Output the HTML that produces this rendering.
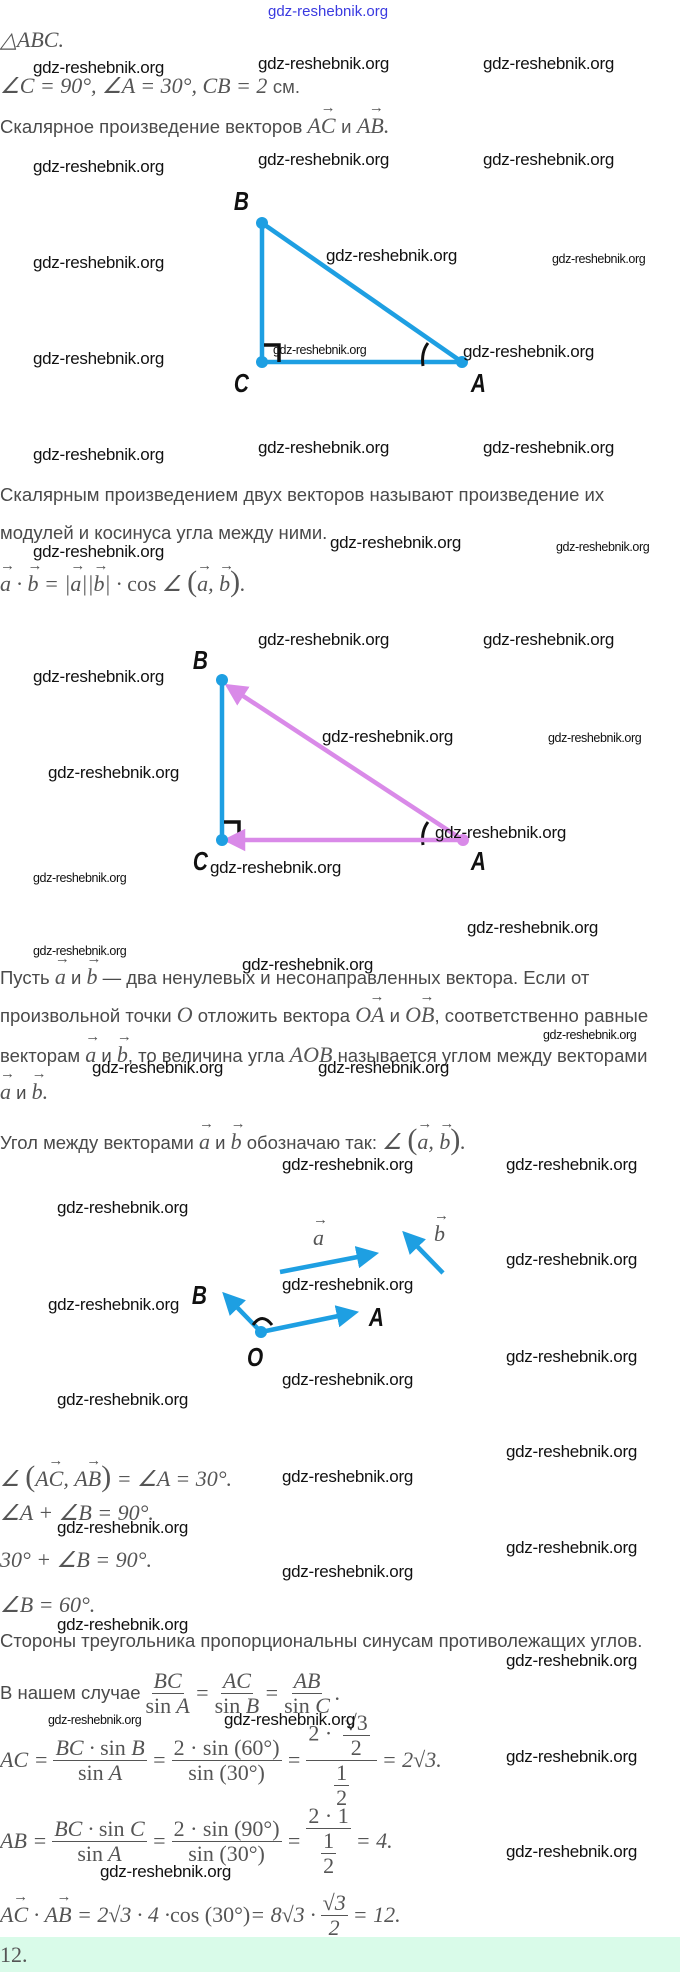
<!DOCTYPE html>
<html><head><meta charset="utf-8">
<style>
body{margin:0;width:680px;height:1972px;position:relative;background:#fff;overflow:hidden;font-family:"Liberation Sans",sans-serif;color:#4a4a4a}
.t{position:absolute;white-space:nowrap;font-size:18.5px;line-height:24px}
.m{font-family:"Liberation Serif",serif;font-style:italic;font-size:22px;color:#555}
.r{font-style:normal}
.w{position:absolute;white-space:nowrap;font-size:17px;line-height:20px;color:#111;letter-spacing:-0.3px}
.ws{position:absolute;white-space:nowrap;font-size:12.5px;line-height:14px;color:#111;letter-spacing:-0.4px}
.v{position:relative;display:inline-block}
.v:before{content:"→";position:absolute;left:0;right:0;top:-13px;text-align:right;font-style:normal;font-size:15px;line-height:14px}
.fr{display:inline-flex;flex-direction:column;align-items:center;vertical-align:middle;margin:0 5px;line-height:24px}
.fr>span:first-child{border-bottom:1px solid #555;padding:0 2px}
.lbl{position:absolute;font-family:"Liberation Sans",sans-serif;font-weight:bold;font-style:italic;font-size:26px;color:#111;transform:scaleX(0.8)}
</style></head><body>
<div class="t" style="left:268px;top:0px;color:#3a3ae0;font-size:15px">gdz-reshebnik.org</div>
<div class="t m" style="left:0;top:28px">△ABC.</div>
<div class="t m" style="left:0;top:74px">∠C = 90°, ∠A = 30°, CB = 2 <span style="font-family:'Liberation Sans';font-style:normal;font-size:18.5px">см.</span></div>
<div class="t" style="left:0;top:114px">Скалярное произведение векторов <span class="m"><span class="v">AC</span> <span style="font-family:'Liberation Sans';font-style:normal;font-size:18.5px">и</span> <span class="v">AB</span>.</span></div>

<svg style="position:absolute;left:0;top:0" width="680" height="1972">
<defs>
<marker id="pa" markerWidth="5" markerHeight="5" refX="2.5" refY="2.5" orient="auto" markerUnits="strokeWidth"><path d="M0,0 L5,2.5 L0,5 z" fill="#d98ae8"/></marker>
<marker id="ba" markerWidth="5" markerHeight="5" refX="2.5" refY="2.5" orient="auto" markerUnits="strokeWidth"><path d="M0,0 L5,2.5 L0,5 z" fill="#1e9fe2"/></marker>
</defs>
<g stroke="#1e9fe2" stroke-width="4.5" fill="none">
<line x1="262" y1="223" x2="262" y2="362"/><line x1="262" y1="362" x2="462" y2="362"/><line x1="262" y1="223" x2="462" y2="362"/>
</g>
<path d="M264,345 H279 V362" stroke="#111" stroke-width="3.5" fill="none"/>
<path d="M428,343 Q421,352 423,366" stroke="#111" stroke-width="3" fill="none"/>
<g fill="#1e9fe2"><circle cx="262" cy="223" r="6"/><circle cx="262" cy="362" r="6"/><circle cx="462" cy="362" r="6"/></g>
<line x1="222" y1="680" x2="222" y2="840" stroke="#1e9fe2" stroke-width="4.5"/>
<path d="M224,822 H239 V840" stroke="#111" stroke-width="3.5" fill="none"/>
<path d="M428,822 Q421,831 423,845" stroke="#111" stroke-width="3" fill="none"/>
<g stroke="#d98ae8" stroke-width="4.5">
<line x1="463" y1="840" x2="234" y2="690" marker-end="url(#pa)"/>
<line x1="463" y1="840" x2="234" y2="840" marker-end="url(#pa)"/>
</g>
<g fill="#1e9fe2"><circle cx="222" cy="680" r="6"/><circle cx="222" cy="840" r="6"/></g>
<circle cx="463" cy="840" r="6" fill="#d98ae8"/>
<g stroke="#1e9fe2" stroke-width="4.5">
<line x1="280" y1="1272" x2="368" y2="1255" marker-end="url(#ba)"/>
<line x1="443" y1="1273" x2="410" y2="1239" marker-end="url(#ba)"/>
<line x1="261" y1="1332" x2="348" y2="1314" marker-end="url(#ba)"/>
<line x1="261" y1="1332" x2="230" y2="1300" marker-end="url(#ba)"/>
</g>
<path d="M253,1325 Q262,1312 272,1325" stroke="#111" stroke-width="3" fill="none"/>
<circle cx="261" cy="1332" r="6" fill="#1e9fe2"/>
</svg>
<div class="lbl" style="left:232px;top:186px">B</div>
<div class="lbl" style="left:232px;top:368px">C</div>
<div class="lbl" style="left:469px;top:368px">A</div>
<div class="lbl" style="left:191px;top:645px">B</div>
<div class="lbl" style="left:191px;top:846px">C</div>
<div class="lbl" style="left:469px;top:846px">A</div>
<div class="lbl" style="left:190px;top:1280px">B</div>
<div class="lbl" style="left:367px;top:1302px">A</div>
<div class="lbl" style="left:245px;top:1342px">O</div>
<div class="t m" style="left:313px;top:1226px"><span class="v">a</span></div>
<div class="t m" style="left:434px;top:1222px"><span class="v">b</span></div>

<div class="t" style="left:0;top:483px">Скалярным произведением двух векторов называют произведение их</div>
<div class="t" style="left:0;top:521px">модулей и косинуса угла между ними.</div>
<div class="t m" style="left:0;top:570px"><span class="v">a</span> · <span class="v">b</span> = |<span class="v">a</span>||<span class="v">b</span>| · <span class="r">cos</span> ∠ <span style="font-size:30px;font-style:normal">(</span><span class="v">a</span>, <span class="v">b</span><span style="font-size:30px;font-style:normal">)</span>.</div>

<div class="t" style="left:0;top:965px">Пусть <span class="m"><span class="v">a</span></span> и <span class="m"><span class="v">b</span></span> — два ненулевых и несонаправленных вектора. Если от</div>
<div class="t" style="left:0;top:1003px">произвольной точки <span class="m">O</span> отложить вектора <span class="m"><span class="v">OA</span></span> и <span class="m"><span class="v">OB</span></span>, соответственно равные</div>
<div class="t" style="left:0;top:1043px">векторам <span class="m"><span class="v">a</span></span> и <span class="m"><span class="v">b</span></span>, то величина угла <span class="m">AOB</span> называется углом между векторами</div>
<div class="t" style="left:0;top:1080px"><span class="m"><span class="v">a</span></span> и <span class="m"><span class="v">b</span>.</span></div>
<div class="t" style="left:0;top:1128px">Угол между векторами <span class="m"><span class="v">a</span></span> и <span class="m"><span class="v">b</span></span> обозначаю так: <span class="m">∠ <span style="font-size:30px;font-style:normal">(</span><span class="v">a</span>, <span class="v">b</span><span style="font-size:30px;font-style:normal">)</span>.</span></div>

<div class="t m" style="left:0;top:1465px">∠ <span style="font-size:30px;font-style:normal">(</span><span class="v">AC</span>, <span class="v">AB</span><span style="font-size:30px;font-style:normal">)</span> = ∠A = 30°.</div>
<div class="t m" style="left:0;top:1501px">∠A + ∠B = 90°.</div>
<div class="t m" style="left:0;top:1548px">30° + ∠B = 90°.</div>
<div class="t m" style="left:0;top:1593px">∠B = 60°.</div>
<div class="t" style="left:0;top:1629px">Стороны треугольника пропорциональны синусам противолежащих углов.</div>
<div class="t" style="left:0;top:1668px;height:50px;display:flex;align-items:center">В нашем случае <span class="m" style="display:inline-flex;align-items:center"><span class="fr"><span>BC</span><span><span class="r">sin</span> A</span></span>=<span class="fr"><span>AC</span><span><span class="r">sin</span> B</span></span>=<span class="fr"><span>AB</span><span><span class="r">sin</span> C</span></span>.</span></div>
<div class="t m" style="left:0;top:1718px;height:84px;display:flex;align-items:center">AC =<span class="fr"><span>BC · <span class="r">sin</span> B</span><span><span class="r">sin</span> A</span></span>=<span class="fr"><span class="r">2 · sin (60°)</span><span class="r">sin (30°)</span></span>=<span class="fr"><span class="r">2 · <span class="fr"><span>√3</span><span>2</span></span></span><span class="r fr" style="margin:0"><span>1</span><span>2</span></span></span>= 2√3.</div>
<div class="t m" style="left:0;top:1803px;height:76px;display:flex;align-items:center">AB =<span class="fr"><span>BC · <span class="r">sin</span> C</span><span><span class="r">sin</span> A</span></span>=<span class="fr"><span class="r">2 · sin (90°)</span><span class="r">sin (30°)</span></span>=<span class="fr"><span class="r">2 · 1</span><span class="r fr" style="margin:0"><span>1</span><span>2</span></span></span>= 4.</div>
<div class="t m" style="left:0;top:1893px;height:44px;display:flex;align-items:center"><span class="v">AC</span>&nbsp;·&nbsp;<span class="v">AB</span>&nbsp;= 2√3 · 4 · <span class="r">cos (30°)</span> = 8√3 ·<span class="fr"><span>√3</span><span>2</span></span>= 12.</div>
<div style="position:absolute;left:0;top:1937px;width:680px;height:35px;background:#d9fbe9"></div>
<div class="t m r" style="left:0;top:1943px">12.</div>

<div class="w" style="left:33px;top:58px">gdz-reshebnik.org</div>
<div class="w" style="left:258px;top:54px">gdz-reshebnik.org</div>
<div class="w" style="left:483px;top:54px">gdz-reshebnik.org</div>
<div class="w" style="left:33px;top:157px">gdz-reshebnik.org</div>
<div class="w" style="left:258px;top:150px">gdz-reshebnik.org</div>
<div class="w" style="left:483px;top:150px">gdz-reshebnik.org</div>
<div class="w" style="left:33px;top:253px">gdz-reshebnik.org</div>
<div class="w" style="left:326px;top:246px">gdz-reshebnik.org</div>
<div class="ws" style="left:552px;top:252px">gdz-reshebnik.org</div>
<div class="w" style="left:33px;top:349px">gdz-reshebnik.org</div>
<div class="ws" style="left:273px;top:343px">gdz-reshebnik.org</div>
<div class="w" style="left:463px;top:342px">gdz-reshebnik.org</div>
<div class="w" style="left:33px;top:445px">gdz-reshebnik.org</div>
<div class="w" style="left:258px;top:438px">gdz-reshebnik.org</div>
<div class="w" style="left:483px;top:438px">gdz-reshebnik.org</div>
<div class="w" style="left:33px;top:542px">gdz-reshebnik.org</div>
<div class="w" style="left:330px;top:533px">gdz-reshebnik.org</div>
<div class="ws" style="left:556px;top:540px">gdz-reshebnik.org</div>
<div class="w" style="left:258px;top:630px">gdz-reshebnik.org</div>
<div class="w" style="left:483px;top:630px">gdz-reshebnik.org</div>
<div class="w" style="left:33px;top:667px">gdz-reshebnik.org</div>
<div class="w" style="left:322px;top:727px">gdz-reshebnik.org</div>
<div class="ws" style="left:548px;top:731px">gdz-reshebnik.org</div>
<div class="w" style="left:48px;top:763px">gdz-reshebnik.org</div>
<div class="w" style="left:435px;top:823px">gdz-reshebnik.org</div>
<div class="w" style="left:210px;top:858px">gdz-reshebnik.org</div>
<div class="ws" style="left:33px;top:871px">gdz-reshebnik.org</div>
<div class="w" style="left:467px;top:918px">gdz-reshebnik.org</div>
<div class="ws" style="left:33px;top:944px">gdz-reshebnik.org</div>
<div class="w" style="left:242px;top:955px">gdz-reshebnik.org</div>
<div class="ws" style="left:543px;top:1028px">gdz-reshebnik.org</div>
<div class="w" style="left:92px;top:1058px">gdz-reshebnik.org</div>
<div class="w" style="left:318px;top:1058px">gdz-reshebnik.org</div>
<div class="w" style="left:282px;top:1155px">gdz-reshebnik.org</div>
<div class="w" style="left:506px;top:1155px">gdz-reshebnik.org</div>
<div class="w" style="left:57px;top:1198px">gdz-reshebnik.org</div>
<div class="w" style="left:506px;top:1250px">gdz-reshebnik.org</div>
<div class="w" style="left:282px;top:1275px">gdz-reshebnik.org</div>
<div class="w" style="left:48px;top:1295px">gdz-reshebnik.org</div>
<div class="w" style="left:506px;top:1347px">gdz-reshebnik.org</div>
<div class="w" style="left:282px;top:1370px">gdz-reshebnik.org</div>
<div class="w" style="left:57px;top:1390px">gdz-reshebnik.org</div>
<div class="w" style="left:506px;top:1442px">gdz-reshebnik.org</div>
<div class="w" style="left:282px;top:1467px">gdz-reshebnik.org</div>
<div class="w" style="left:57px;top:1518px">gdz-reshebnik.org</div>
<div class="w" style="left:506px;top:1538px">gdz-reshebnik.org</div>
<div class="w" style="left:282px;top:1562px">gdz-reshebnik.org</div>
<div class="w" style="left:57px;top:1615px">gdz-reshebnik.org</div>
<div class="w" style="left:506px;top:1651px">gdz-reshebnik.org</div>
<div class="ws" style="left:48px;top:1713px">gdz-reshebnik.org</div>
<div class="w" style="left:224px;top:1710px">gdz-reshebnik.org</div>
<div class="w" style="left:506px;top:1747px">gdz-reshebnik.org</div>
<div class="w" style="left:506px;top:1842px">gdz-reshebnik.org</div>
<div class="w" style="left:100px;top:1862px">gdz-reshebnik.org</div>
</body></html>
